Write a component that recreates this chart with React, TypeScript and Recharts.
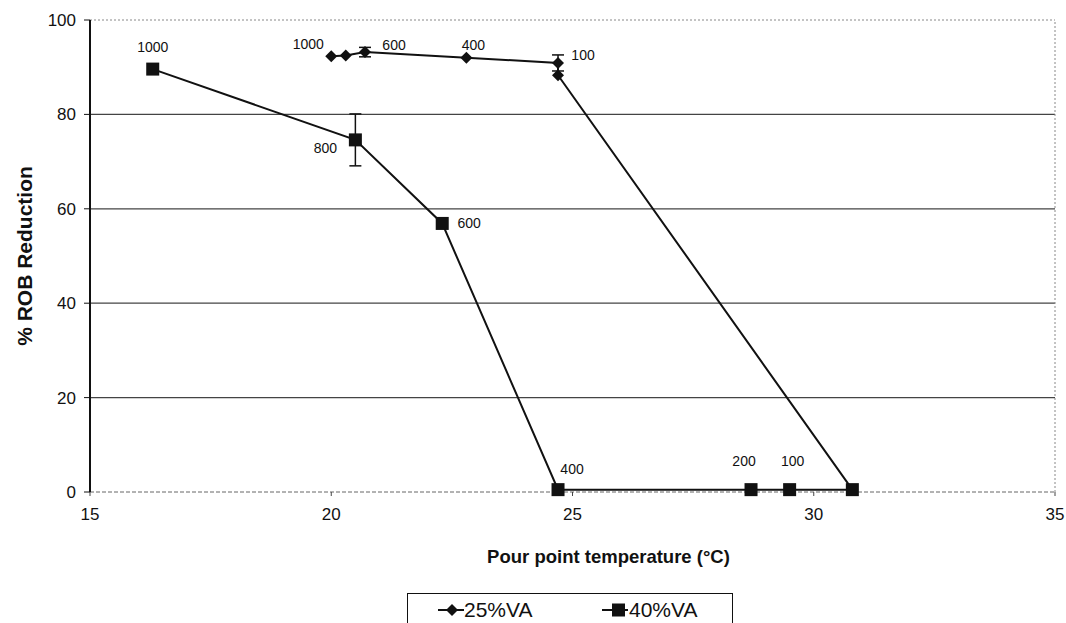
import React from 'react';
import { ScatterChart, Scatter, XAxis, YAxis, ReferenceLine, ErrorBar, Label } from 'recharts';

// Pour point temperature (°C) vs % ROB reduction
const va25Temp = [20.0, 20.3, 20.7, 22.8, 24.7, 24.7, 30.8];
const va25Reduction = [92.3, 92.5, 93.2, 92.0, 90.9, 88.3, 0.5];
const va25Error = [0, 0, 1.0, 0, 1.7, 0, 0];
const va25Dose = ['1000', '', '600', '400', '100', '', ''];

const va40Temp = [16.3, 20.5, 22.3, 24.7, 28.7, 29.5, 30.8];
const va40Reduction = [89.6, 74.6, 56.9, 0.5, 0.5, 0.5, 0.5];
const va40Error = [0, 5.5, 0, 0, 0, 0, 0];
const va40Dose = ['1000', '800', '600', '400', '200', '100', ''];

const xTicks = [15, 20, 25, 30, 35];
const yTicks = [0, 20, 40, 60, 80, 100];
const gridValues = [20, 40, 60, 80];

const FONT = '"Liberation Sans", Arial, sans-serif';
const INK = '#111';

const va25 = va25Temp.map((t, i) => ({ x: t, y: va25Reduction[i], err: va25Error[i], dose: va25Dose[i] }));
const va40 = va40Temp.map((t, i) => ({ x: t, y: va40Reduction[i], err: va40Error[i], dose: va40Dose[i] }));

// where each dose label sits relative to its marker
const offsets25: Record<string, [number, number]> = {
  '1000': [-23, -12],
  '600': [29, -7],
  '400': [7, -13],
  '100': [25, -8],
};
const offsets40: Record<string, [number, number]> = {
  '1000': [0, -22],
  '800': [-30, 8],
  '600': [27, 0],
  '400': [14, -21],
  '200': [-7, -29],
  '100': [3, -29],
};

const makeShape = (kind: 'diamond' | 'square', offsets: Record<string, [number, number]>) => (props: any) => {
  const { cx, cy, payload } = props;
  if (cx == null || cy == null) return <g />;
  const dose = payload?.dose;
  const off = dose ? offsets[dose] : undefined;
  return (
    <g>
      {kind === 'diamond' ? (
        <polygon points={`${cx},${cy - 6} ${cx + 6},${cy} ${cx},${cy + 6} ${cx - 6},${cy}`} fill={INK} />
      ) : (
        <rect x={cx - 6.5} y={cy - 6.5} width={13} height={13} fill={INK} />
      )}
      {off && (
        <text
          x={cx + off[0]}
          y={cy + off[1]}
          textAnchor="middle"
          dominantBaseline="central"
          fontFamily={FONT}
          fontSize={14}
          fill={INK}
        >
          {dose}
        </text>
      )}
    </g>
  );
};

const LegendIcon = ({ kind }: { kind: 'diamond' | 'square' }) => (
  <svg width={26} height={16} style={{ display: 'block' }}>
    <line x1={0} y1={8} x2={26} y2={8} stroke={INK} strokeWidth={2} />
    {kind === 'diamond' ? (
      <polygon points="14,2 20,8 14,14 8,8" fill={INK} />
    ) : (
      <rect x={10} y={1.5} width={13} height={13} fill={INK} />
    )}
  </svg>
);

export default function App() {
  return (
    <div style={{ position: 'absolute', left: 0, top: 0, width: 1066, height: 623, overflow: 'hidden', background: '#fff' }}>
      <ScatterChart width={1066} height={623} margin={{ top: 20, right: 11, left: 0, bottom: 91 }}>
        <XAxis
          type="number"
          dataKey="x"
          domain={[15, 35]}
          ticks={xTicks}
          tickSize={4}
          tickMargin={12}
          height={40}
          axisLine={{ stroke: '#666', strokeDasharray: '4 2' }}
          tickLine={{ stroke: '#444' }}
          tick={{ fill: INK, fontSize: 17, fontFamily: FONT }}
        >
          <Label
            value="Pour point temperature (°C)"
            position="bottom"
            offset={18}
            dx={36}
            style={{ fontFamily: FONT, fontSize: 18.5, fontWeight: 'bold', fill: INK }}
          />
        </XAxis>
        <YAxis
          type="number"
          dataKey="y"
          domain={[0, 100]}
          ticks={yTicks}
          width={90}
          tickSize={6}
          tickMargin={8}
          axisLine={{ stroke: INK, strokeWidth: 2 }}
          tickLine={{ stroke: INK }}
          tick={{ fill: INK, fontSize: 17, fontFamily: FONT }}
        >
          <Label
            value="% ROB Reduction"
            angle={-90}
            position="insideLeft"
            offset={25}
            style={{ textAnchor: 'middle', fontFamily: FONT, fontSize: 21, fontWeight: 'bold', fill: INK }}
          />
        </YAxis>
        {gridValues.map((v) => (
          <ReferenceLine key={v} y={v} stroke="#444" strokeWidth={1.3} />
        ))}
        <ReferenceLine y={100} stroke="#888" strokeDasharray="2 2" />
        <ReferenceLine x={35} stroke="#888" strokeDasharray="2 2" />
        <Scatter
          name="25%VA"
          data={va25}
          line={{ stroke: INK, strokeWidth: 2 }}
          lineType="joint"
          shape={makeShape('diamond', offsets25)}
          isAnimationActive={false}
        >
          <ErrorBar dataKey="err" direction="y" width={6} stroke={INK} strokeWidth={1.5} isAnimationActive={false} />
        </Scatter>
        <Scatter
          name="40%VA"
          data={va40}
          line={{ stroke: INK, strokeWidth: 2 }}
          lineType="joint"
          shape={makeShape('square', offsets40)}
          isAnimationActive={false}
        >
          <ErrorBar dataKey="err" direction="y" width={6} stroke={INK} strokeWidth={1.5} isAnimationActive={false} />
        </Scatter>
      </ScatterChart>
      <div
        style={{
          position: 'absolute',
          left: 407,
          top: 593,
          width: 326,
          height: 40,
          border: `1.5px solid ${INK}`,
          boxSizing: 'border-box',
          fontFamily: FONT,
          fontSize: 21,
          lineHeight: '24px',
          color: INK,
        }}
      >
        <div style={{ position: 'absolute', left: 30, top: 4, display: 'flex', alignItems: 'center' }}>
          <LegendIcon kind="diamond" />
          <span style={{ marginLeft: 0 }}>25%VA</span>
        </div>
        <div style={{ position: 'absolute', left: 194, top: 4, display: 'flex', alignItems: 'center' }}>
          <LegendIcon kind="square" />
          <span style={{ marginLeft: 1 }}>40%VA</span>
        </div>
      </div>
    </div>
  );
}
